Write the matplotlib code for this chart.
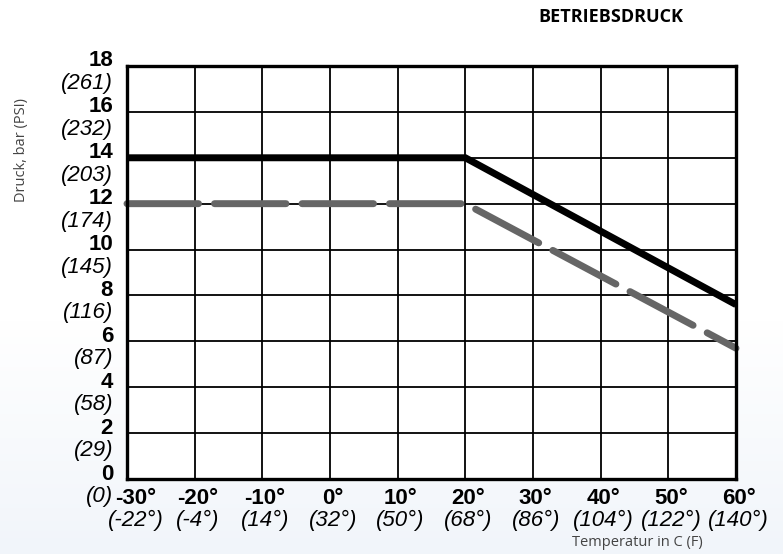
import numpy as np
import matplotlib.pyplot as plt
from matplotlib.colors import to_rgb

# chart values
temp_c = [-30, -20, -10, 0, 10, 20, 30, 40, 50, 60]
temp_f = [-22, -4, 14, 32, 50, 68, 86, 104, 122, 140]
bar_ticks = [0, 2, 4, 6, 8, 10, 12, 14, 16, 18]
psi_ticks = [0, 29, 58, 87, 116, 145, 174, 203, 232, 261]

black_x = [-30, 20, 60]
black_y = [14, 14, 7.6]
gray_x = [-30, 20, 60]
gray_y = [12, 12, 5.7]

fig = plt.figure(figsize=(7.83, 5.54), dpi=100)

# soft background gradient at the bottom of the figure
bg = fig.add_axes([0, 0, 1, 1], zorder=-10)
h = 554
top = np.array(to_rgb("#ffffff"))
bot = np.array(to_rgb("#f1f5fa"))
t = np.clip((np.arange(h) - 320) / (h - 320), 0, 1)[:, None]
grad = top * (1 - t) + bot * t
bg.imshow(grad[:, None, :], aspect="auto", extent=[0, 1, 0, 1], origin="upper")
bg.set_axis_off()

ax = fig.add_axes([127 / 783, 75 / 554, 609 / 783, 413 / 554])
ax.set_facecolor("white")
ax.set_xlim(-30, 60)
ax.set_ylim(0, 18)

for x in temp_c:
    ax.axvline(x, color="black", lw=1.3, zorder=1)
for y in bar_ticks:
    ax.axhline(y, color="black", lw=1.3, zorder=1)

ax.plot(black_x, black_y, color="black", lw=5, solid_capstyle="butt",
        solid_joinstyle="miter", zorder=3, clip_on=False)
gl, = ax.plot(gray_x, gray_y, color="#666666", lw=5, dash_capstyle="round",
              zorder=2, clip_on=False)
gl.set_dashes((10.3, 2.3))

for s in ax.spines.values():
    s.set_linewidth(2.4)
ax.set_xticks([])
ax.set_yticks([])

num = dict(family="Liberation Sans", fontweight="bold", fontsize=16)
ita = dict(family="Liberation Sans", style="italic", fontsize=16)

for b, p in zip(bar_ticks, psi_ticks):
    ax.annotate(str(b), (0, b), xycoords=("axes fraction", "data"),
                xytext=(-10, 3.6), textcoords="offset points",
                ha="right", va="center", **num)
    ax.annotate("({})".format(p), (0, b), xycoords=("axes fraction", "data"),
                xytext=(-10, -12.6), textcoords="offset points",
                ha="right", va="center", **ita)

for i, (c, f) in enumerate(zip(temp_c, temp_f)):
    dx = 6.5 if i == 0 else 2
    ax.annotate("{}°".format(c), (c, 0), xycoords=("data", "axes fraction"),
                xytext=(dx, -13.7), textcoords="offset points",
                ha="center", va="center", **num)
    ax.annotate("({}°)".format(f), (c, 0), xycoords=("data", "axes fraction"),
                xytext=(dx, -29.5), textcoords="offset points",
                ha="center", va="center", **ita)

fig.text(611 / 783, 1 - 17 / 554, "BETRIEBSDRUCK", family="Open Sans",
         fontweight="bold", fontsize=13, ha="center", va="center")
fig.text(22 / 783, 1 - 150 / 554, "Druck, bar (PSI)", family="Open Sans",
         fontsize=10.5, color="#444444", rotation=90, ha="center", va="center")
fig.text(637 / 783, 1 - 542 / 554, "Temperatur in C (F)", family="Open Sans",
         fontsize=10.5, color="#444444", ha="center", va="center")

fig.savefig("out.png", dpi=100)
